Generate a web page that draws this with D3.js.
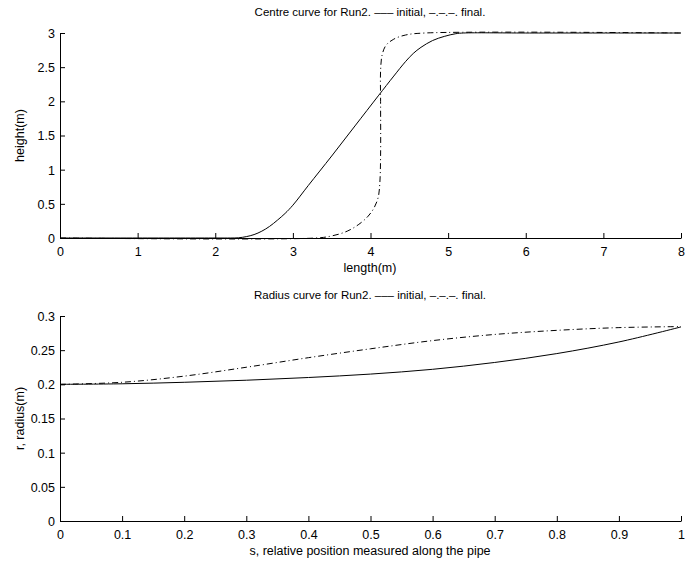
<!DOCTYPE html>
<html><head><meta charset="utf-8">
<script src="https://cdn.jsdelivr.net/npm/d3@7/dist/d3.min.js"></script>
<style>body{margin:0;background:#fff}svg{display:block}text{font-family:"Liberation Sans",Arial,sans-serif;fill:#000}</style>
</head><body><svg id="c" width="685" height="562"></svg>
<script>
// Top panel: centre curve
const topX = [0,1,2,2.2,2.3,2.4,2.5,2.6,2.7,2.8,2.9,3.0,3.2,3.5,3.8,4.1,4.3,4.45,4.55,4.65,4.8,4.95,5.1,5.2,6,8];
const topInitial = [0,0,0,0,0.003,0.02,0.05,0.1,0.17,0.26,0.36,0.48,0.77,1.2,1.64,2.08,2.37,2.58,2.7,2.79,2.89,2.95,2.99,3,3,3];
const topFinalX = [0,3.3,3.5,3.7,3.85,3.97,4.05,4.1,4.12,4.13,4.13,4.13,4.15,4.2,4.3,4.45,4.7,8];
const topFinal = [0,0,0.03,0.1,0.2,0.32,0.45,0.6,0.8,1.2,2.0,2.45,2.68,2.82,2.91,2.97,3,3];
const topXTicks = [0,1,2,3,4,5,6,7,8];
const topYTicks = [0,0.5,1,1.5,2,2.5,3];
const topYLabels = ["0","0.5","1","1.5","2","2.5","3"];
// Bottom panel: radius curve
const botS = [0,0.1,0.2,0.3,0.4,0.5,0.6,0.7,0.8,0.9,1.0];
const botInitial = [0.2,0.2008,0.203,0.206,0.21,0.215,0.222,0.232,0.245,0.262,0.284];
const botFinal = [0.2,0.203,0.212,0.225,0.239,0.252,0.264,0.273,0.279,0.283,0.2845];
const botXTicks = [0,0.1,0.2,0.3,0.4,0.5,0.6,0.7,0.8,0.9,1];
const botXLabels = ["0","0.1","0.2","0.3","0.4","0.5","0.6","0.7","0.8","0.9","1"];
const botYTicks = [0,0.05,0.1,0.15,0.2,0.25,0.3];
const botYLabels = ["0","0.05","0.1","0.15","0.2","0.25","0.3"];

const titles = ["Centre curve for Run2. \u2013\u2013\u2013 initial, \u2013.\u2013.\u2013. final.",
                "Radius curve for Run2. \u2013\u2013\u2013 initial, \u2013.\u2013.\u2013. final."];

const svg = d3.select("#c");

function panel(cfg){
  const x = d3.scaleLinear().domain(cfg.xd).range([60,681]);
  const y = d3.scaleLinear().domain(cfg.yd).range([cfg.bottom, cfg.top]);
  const g = svg.append("g");
  const xa = d3.axisBottom(x).tickValues(cfg.xt).tickSizeInner(-5).tickSizeOuter(0).tickPadding(9)
    .tickFormat((d,i)=>cfg.xlab[i]);
  const ya = d3.axisLeft(y).tickValues(cfg.yt).tickSizeInner(-5).tickSizeOuter(0).tickPadding(5)
    .tickFormat((d,i)=>cfg.ylab[i]);
  const gx = g.append("g").attr("transform",`translate(0,${cfg.bottom})`).call(xa);
  const gy = g.append("g").attr("transform",`translate(60,0)`).call(ya);
  [gx,gy].forEach(a=>{
    a.selectAll("path").attr("stroke","#000").attr("stroke-width",1);
    a.selectAll("line").attr("stroke","#000");
    a.selectAll("text").style("font-size","12.5px").style("font-family","'Liberation Sans',Arial,sans-serif").attr("fill","#000");
  });
  gy.selectAll("text").attr("dy","0.35em");
  const line = d3.line().x(d=>x(d[0])).y(d=>y(d[1])).curve(d3.curveCatmullRom.alpha(0.5));
  g.append("path").datum(cfg.xs.map((v,i)=>[v,cfg.ini[i]])).attr("d",line)
    .attr("fill","none").attr("stroke","#000").attr("stroke-width",1);
  g.append("path").datum(cfg.fx.map((v,i)=>[v,cfg.fin[i]])).attr("d",line)
    .attr("fill","none").attr("stroke","#000").attr("stroke-width",1).attr("stroke-dasharray","6,3,1,3");
  g.append("text").attr("x",370).attr("y",cfg.top-17).attr("text-anchor","middle").style("font-size","11.5px").text(cfg.title);
  g.append("text").attr("x",370).attr("y",cfg.bottom+34).attr("text-anchor","middle").style("font-size","12.5px").text(cfg.xl);
  g.append("text").attr("transform",`translate(24,${(cfg.top+cfg.bottom)/2}) rotate(-90)`).attr("text-anchor","middle").style("font-size","12.5px").text(cfg.yl);
}

panel({xd:[0,8],yd:[0,3],top:33,bottom:238,xt:topXTicks,yt:topYTicks,xlab:topXTicks.map(String),ylab:topYLabels,
  xs:topX,ini:topInitial,fx:topFinalX,fin:topFinal,title:titles[0],xl:"length(m)",yl:"height(m)"});
panel({xd:[0,1],yd:[0,0.3],top:316,bottom:521,xt:botXTicks,yt:botYTicks,xlab:botXLabels,ylab:botYLabels,
  xs:botS,ini:botInitial,fx:botS,fin:botFinal,title:titles[1],xl:"s, relative position measured along the pipe",yl:"r, radius(m)"});
</script></body></html>
